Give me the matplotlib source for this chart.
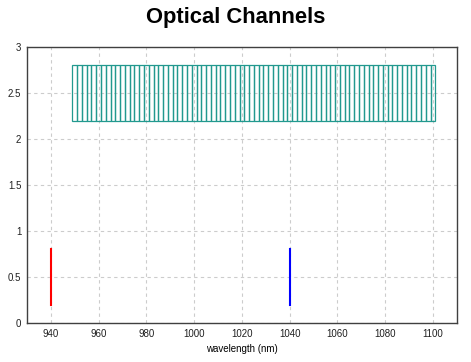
import matplotlib
matplotlib.use("Agg")
import matplotlib.pyplot as plt
from matplotlib.patches import Rectangle

# Data
channel_centers = list(range(950, 1101, 2))
channel_width = 2
channel_bottom = 2.2
channel_top = 2.8
red_line_x = 940
blue_line_x = 1040
line_y = [0.2, 0.8]
xticks = [940, 960, 980, 1000, 1020, 1040, 1060, 1080, 1100]
yticks = [0, 0.5, 1, 1.5, 2, 2.5, 3]

plt.rcParams['font.family'] = ['Liberation Sans', 'DejaVu Sans']

fig = plt.figure(figsize=(4.71, 3.62), dpi=100)
ax = fig.add_axes([0.0573, 0.1077, 0.9127, 0.7623])

for c in channel_centers:
    ax.add_patch(Rectangle((c - channel_width / 2, channel_bottom), channel_width,
                           channel_top - channel_bottom, facecolor='none',
                           edgecolor='#22998f', linewidth=0.9))

ax.plot([red_line_x, red_line_x], line_y, color='red', linewidth=1.5)
ax.plot([blue_line_x, blue_line_x], line_y, color='blue', linewidth=1.5)

ax.set_xlim(930, 1110)
ax.set_ylim(0, 3)
ax.set_xticks(xticks)
ax.set_yticks(yticks)
ax.set_yticklabels(['0', '0.5', '1', '1.5', '2', '2.5', '3'])
ax.tick_params(length=0, labelsize=7, pad=4, labelcolor='#202020')
ax.grid(True, linestyle=(0, (3, 3)), color='#cccccc', linewidth=0.8)
ax.set_axisbelow(True)
for s in ax.spines.values():
    s.set_color('#404040')
    s.set_linewidth(1)

ax.set_xlabel('wavelength (nm)', fontsize=7, labelpad=4)
fig.suptitle('Optical Channels', fontsize=15.8, fontweight='bold', y=0.98)

fig.savefig('out.png', dpi=100)
